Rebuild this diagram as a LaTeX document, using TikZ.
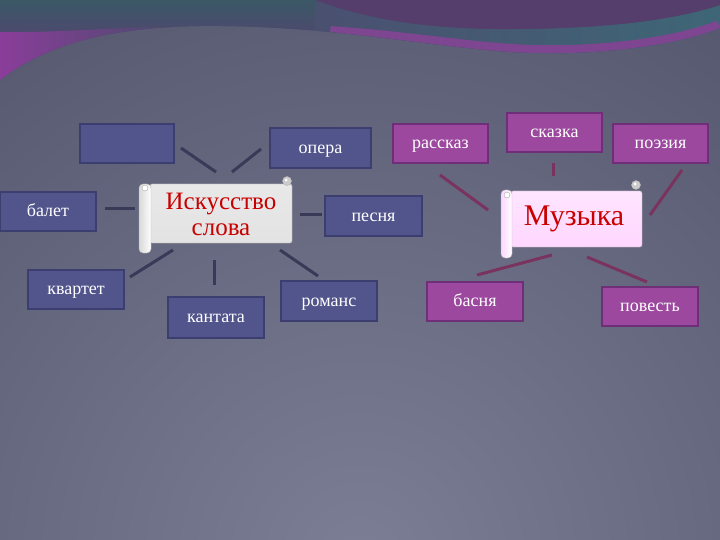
\documentclass[tikz,border=0pt]{standalone}
\usepackage{fontspec}
\setmainfont{Liberation Serif}
\usetikzlibrary{calc}
\definecolor{bgin}{HTML}{7C7E96}
\definecolor{bgout}{HTML}{42445A}
\definecolor{slate}{HTML}{4B4B6D}
\definecolor{slateb}{HTML}{4A5070}
\definecolor{tealtop}{HTML}{3A5866}
\definecolor{magglow}{HTML}{8A3D9A}
\definecolor{purtop}{HTML}{553E6B}
\definecolor{tealband}{HTML}{3E6676}
\definecolor{magline}{HTML}{7E4590}
\definecolor{bluefill}{HTML}{52548C}
\definecolor{blueedge}{HTML}{3C3E70}
\definecolor{purfill}{HTML}{9B489E}
\definecolor{puredge}{HTML}{6E2F78}
\definecolor{blueconn}{HTML}{383A58}
\definecolor{purconn}{HTML}{7A335F}
\definecolor{scrolltxt}{HTML}{C80000}
\tikzset{
  boxtext/.style={text=white, inner sep=0pt, font=\fontsize{18}{20}\selectfont,
    text height=10.2pt, text depth=0pt},
  bluebox/.style={boxtext, draw=blueedge, line width=1.5pt, fill=bluefill},
  purbox/.style={boxtext, draw=puredge, line width=1.5pt, fill=purfill},
  bconn/.style={draw=blueconn, line width=3pt},
  pconn/.style={draw=purconn, line width=3pt},
}
\def\Cone{(0,80) .. controls (45,45) and (110,27) .. (200,26)
  .. controls (300,25) and (380,38) .. (450,46)
  .. controls (500,52) and (530,54) .. (570,53)
  .. controls (630,51) and (685,42) .. (720,28)}
\begin{document}
\begin{tikzpicture}[x=1pt,y=-1pt]
\useasboundingbox (0,0) rectangle (720,540);
% background
\fill[bgout] (0,0) rectangle (720,540);
\begin{scope}
\clip (0,0) rectangle (720,540);
\shade[inner color=bgin, outer color=bgout] (360,560) circle (1000);
% top band
\clip (0,0) -- \Cone -- (720,0) -- cycle;
\fill[slate] (0,0) rectangle (720,90);
\shade[top color=tealtop, bottom color=slate] (0,0) rectangle (720,30);
\shade[left color=magglow, right color=slate] (0,90) -- (0,32)
  .. controls (50,33) and (110,28) .. (170,26) -- (170,90) -- cycle;
\shade[left color=slateb, right color=tealband] (315,0)
  .. controls (370,20) and (430,30) .. (520,29)
  .. controls (620,28) and (680,18) .. (720,5) -- (720,90) -- (315,90) -- cycle;
\fill[purtop] (315,0) .. controls (370,20) and (430,30) .. (520,29)
  .. controls (620,28) and (680,18) .. (720,5) -- (720,0) -- cycle;
\draw[magline, line width=16pt] (330,34) .. controls (380,38) .. (450,46)
  .. controls (500,52) and (530,54) .. (570,53)
  .. controls (630,51) and (685,42) .. (720,28);
\end{scope}

% blue connectors
\coordinate (c1a) at (181,148); \coordinate (c1b) at (216,172);
\coordinate (c2a) at (261,149); \coordinate (c2b) at (232,172);
\coordinate (c3a) at (105,209); \coordinate (c3b) at (135,209);
\coordinate (c4a) at (130,277); \coordinate (c4b) at (173,250);
\coordinate (c5a) at (214,260); \coordinate (c5b) at (214,285);
\coordinate (c6a) at (280,250); \coordinate (c6b) at (318,276);
\coordinate (c7a) at (300,215); \coordinate (c7b) at (322,215);
\foreach \i in {1,...,7} {\draw[bconn] (c\i a) -- (c\i b);}
% purple connectors
\coordinate (m1a) at (440,175); \coordinate (m1b) at (488,210);
\coordinate (m2a) at (553,163); \coordinate (m2b) at (553,176);
\coordinate (m3a) at (682,170); \coordinate (m3b) at (650,215);
\coordinate (m4a) at (477,275); \coordinate (m4b) at (552,255);
\coordinate (m5a) at (587,257); \coordinate (m5b) at (647,282);
\foreach \i in {1,...,5} {\draw[pconn] (m\i a) -- (m\i b);}

% blue boxes
\node[bluebox, minimum width=94pt, minimum height=39pt] (empty) at (127,143.5) {};
\node[bluebox, minimum width=101pt, minimum height=40pt] (opera) at (320.5,148) {опера};
\node[bluebox, minimum width=96pt, minimum height=39pt] (balet) at (48,211.5) {балет};
\node[bluebox, minimum width=96pt, minimum height=39pt] (kvartet) at (76,289.5) {квартет};
\node[bluebox, minimum width=96pt, minimum height=41pt] (kantata) at (216,317.5) {кантата};
\node[bluebox, minimum width=96pt, minimum height=40pt] (romans) at (329,301) {романс};
\node[bluebox, minimum width=97pt, minimum height=40pt] (pesnya) at (373.5,216) {песня};
% purple boxes
\node[purbox, minimum width=95pt, minimum height=39pt] (rasskaz) at (440.5,143.5) {рассказ};
\node[purbox, minimum width=95pt, minimum height=39pt] (skazka) at (554.5,132.5) {сказка};
\node[purbox, minimum width=95pt, minimum height=39pt] (poeziya) at (660.5,143.5) {поэзия};
\node[purbox, minimum width=96pt, minimum height=39pt] (basnya) at (475,301.5) {басня};
\node[purbox, minimum width=96pt, minimum height=39pt] (povest) at (650,306.5) {повесть};

% scroll 1
\shade[top color=gray!18, middle color=white, bottom color=gray!22, draw=gray!60, rounded corners=2pt]
  (150,184) rectangle (292,243);
\shade[left color=gray!30, right color=white, draw=gray!60, rounded corners=4pt]
  (139,184) rectangle (151,253);
\filldraw[fill=white, draw=gray!70] (145,188) circle (3);
\filldraw[fill=gray!40, draw=gray!60] (287,181) circle (4.5);
\fill[white] (286,180) circle (1.5);
\node[text=scrolltxt, align=center, font=\fontsize{25}{26}\selectfont, inner sep=0pt] (art) at (221,214) {Искусство\\слова};

% scroll 2
\shade[top color=magenta!10, middle color=white, bottom color=magenta!16, draw=gray!60, rounded corners=2pt]
  (511,191) rectangle (642,247);
\shade[left color=magenta!16, right color=white, draw=gray!60, rounded corners=4pt]
  (501,190) rectangle (512,258);
\filldraw[fill=white, draw=gray!70] (507,195) circle (3);
\filldraw[fill=gray!40, draw=gray!60] (636,185) circle (4.5);
\fill[white] (635,184) circle (1.5);
\node[text=scrolltxt, font=\fontsize{30}{32}\selectfont, inner sep=0pt] (music) at (574,219) {Музыка};
\end{tikzpicture}
\end{document}
